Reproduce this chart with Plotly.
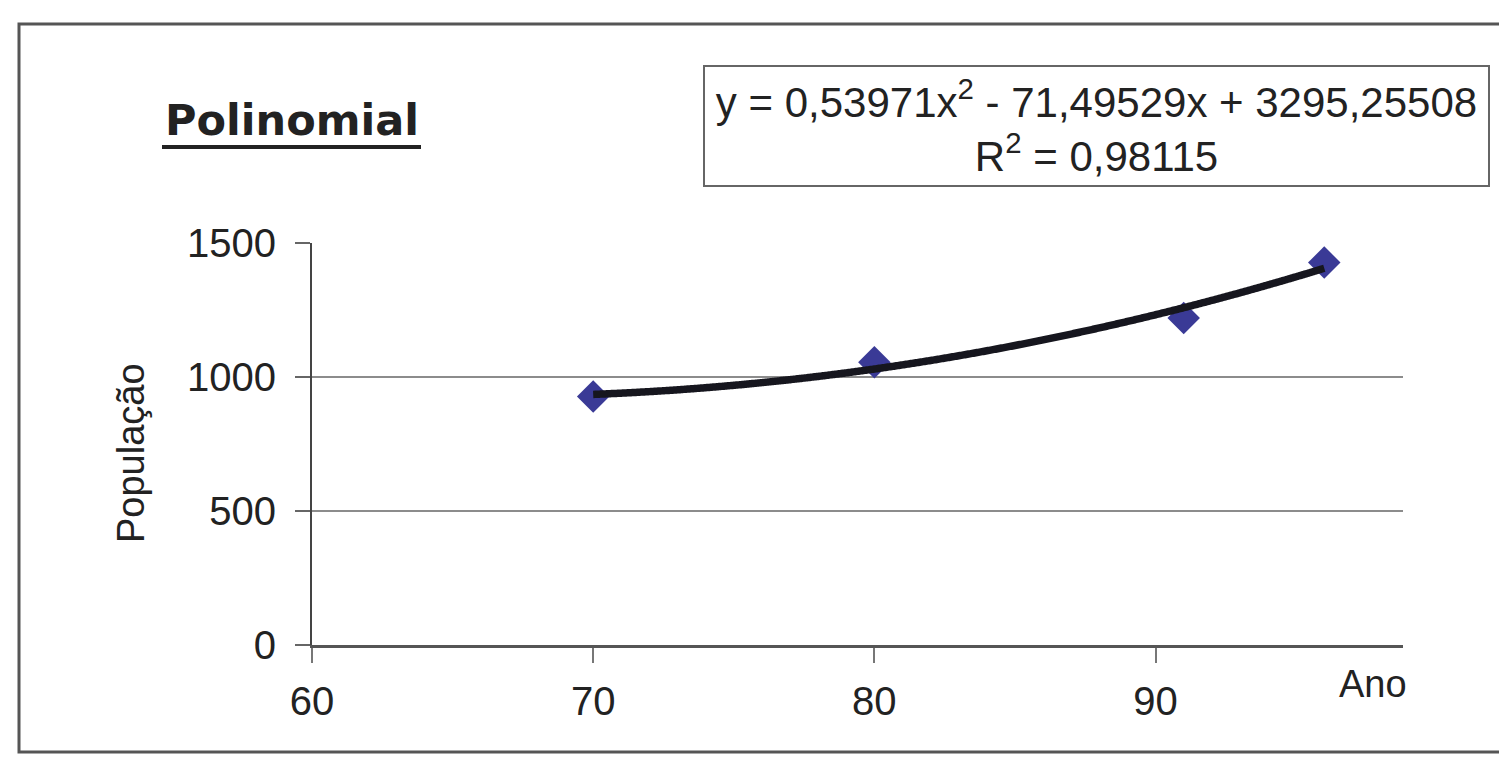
import numpy as np
import plotly.graph_objects as go

# Census years (two-digit) and population values
anos = [70, 80, 91, 96]
populacao = [927, 1055, 1220, 1427]

# Second-order polynomial trend line as reported on the chart
coef_a, coef_b, coef_c = 0.53971, -71.49529, 3295.25508
r2_text = "0,98115"

x_ticks = [60, 70, 80, 90]
y_ticks = [0, 500, 1000, 1500]

W, H = 1499, 767
L, R, T, B = 312, 96, 243, 122
PW, PH = W - L - R, H - T - B


def px(x):
    return (x - L) / PW


def py(y):
    return (H - B - y) / PH


FONT = "Liberation Sans, Arial, sans-serif"

x_fit = np.linspace(min(anos), max(anos), 300)
y_fit = coef_a * x_fit ** 2 + coef_b * x_fit + coef_c

fig = go.Figure()
fig.add_trace(go.Scatter(
    x=anos, y=populacao, mode="markers",
    marker=dict(symbol="diamond", size=25, color="#3a3a96",
                line=dict(width=0)),
    showlegend=False,
))
fig.add_trace(go.Scatter(
    x=x_fit, y=y_fit, mode="lines",
    line=dict(color="#16161e", width=7.5, simplify=False, shape="spline"),
    showlegend=False,
))

fig.update_layout(
    width=W, height=H,
    margin=dict(l=L, r=R, t=T, b=B),
    paper_bgcolor="white", plot_bgcolor="white",
    font=dict(family=FONT, color="#222222"),
    xaxis=dict(
        range=[60, 98.8], tickvals=x_ticks, ticktext=[str(v) for v in x_ticks],
        showgrid=False, zeroline=False,
        showline=True, linecolor="#555555", linewidth=2.5,
        ticks="outside", ticklen=15, tickcolor="#777777", tickwidth=1.5,
        tickfont=dict(size=40, family=FONT, color="#222222"),
        ticklabelstandoff=4,
    ),
    yaxis=dict(
        range=[0, 1500], tickvals=y_ticks, ticktext=[str(v) for v in y_ticks],
        showgrid=True, gridcolor="#8c8c8c", gridwidth=1.5,
        zeroline=False,
        showline=True, linecolor="#444444", linewidth=2,
        ticks="outside", ticklen=15, tickcolor="#666666", tickwidth=1.5,
        tickfont=dict(size=40, family=FONT, color="#222222"),
        ticklabelstandoff=11,
    ),
)

annotations = [
    dict(text="<b>Polinomial</b>", x=px(163), y=py(120), xref="paper", yref="paper",
         xanchor="left", yanchor="middle", showarrow=False,
         font=dict(size=43, family="DejaVu Sans, Verdana, sans-serif", color="#222222")),
    dict(text="y = 0,53971x<sup>2</sup> - 71,49529x + 3295,25508<br>R<sup>2</sup> = 0,98115",
         x=px(703), y=py(65), xref="paper", yref="paper",
         xanchor="left", yanchor="top", showarrow=False,
         align="center", width=781, height=116,
         bordercolor="#666666", borderwidth=2, borderpad=1, bgcolor="white",
         font=dict(size=42, family=FONT, color="#222222")),
    dict(text="População", x=px(131), y=py(453), xref="paper", yref="paper",
         xanchor="center", yanchor="middle", textangle=-90, showarrow=False,
         font=dict(size=38, family=FONT, color="#222222")),
    dict(text="Ano", x=px(1373), y=py(684), xref="paper", yref="paper",
         xanchor="center", yanchor="middle", showarrow=False,
         font=dict(size=38, family=FONT, color="#222222")),
]
fig.update_layout(annotations=annotations)

shapes = [
    # underline of the title
    dict(type="line", xref="paper", yref="paper",
         x0=px(162), x1=px(421), y0=py(147), y1=py(147),
         line=dict(color="#222222", width=4)),
    # outer chart frame
    dict(type="rect", xref="paper", yref="paper",
         x0=px(19), x1=px(1520), y0=py(24), y1=py(752),
         line=dict(color="#555555", width=3)),
]
fig.update_layout(shapes=shapes)

fig.write_html("out.html")
